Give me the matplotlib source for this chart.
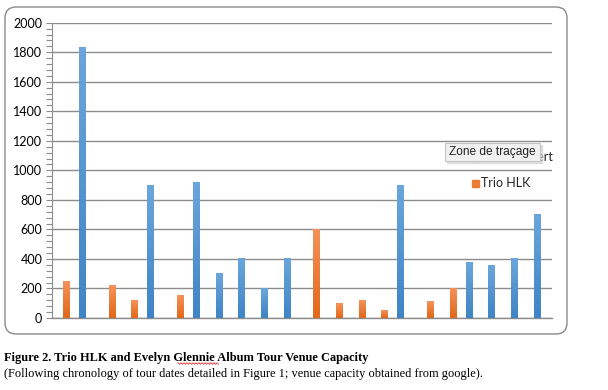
import numpy as np
import matplotlib.pyplot as plt
from matplotlib.patches import FancyBboxPatch, Rectangle
from matplotlib.lines import Line2D
from matplotlib.colors import LinearSegmentedColormap

# venue capacity per tour date (0 = no bar for that series)
joint_concert = [0, 1835, 0, 0, 900, 0, 920, 300, 400, 200, 400,
                 0, 0, 0, 0, 900, 0, 0, 375, 355, 400, 700]
trio_hlk = [250, 0, 220, 120, 0, 150, 0, 0, 0, 0, 0,
            600, 100, 120, 50, 0, 115, 200, 0, 0, 0, 0]
series_names = ["Joint concert", "Trio HLK"]
y_ticks = list(range(0, 2001, 200))

W, H = 608, 390
fig = plt.figure(figsize=(W / 100, H / 100), dpi=100)

# chart frame (rounded, like the Excel chart box)
frame = FancyBboxPatch((0.05, 0.56), 5.62, 3.27,
                       boxstyle="round,pad=0,rounding_size=0.11",
                       transform=fig.dpi_scale_trans, fill=False,
                       edgecolor="#8a8a8a", linewidth=1.0)
fig.patches.append(frame)

ax = fig.add_axes([52 / W, 1 - 318 / H, 500 / W, 295.3 / H])
n = len(joint_concert)

bar_w = 0.29
blue_cmap = LinearSegmentedColormap.from_list("b", ["#3f84c5", "#6aa6dc"])
orange_cmap = LinearSegmentedColormap.from_list("o", ["#e2681a", "#f5925a"])
grad = np.linspace(0, 1, 64).reshape(-1, 1)

for i in range(n):
    for val, off, cmap in ((joint_concert[i], -0.16, blue_cmap),
                           (trio_hlk[i], 0.14, orange_cmap)):
        if val <= 0:
            continue
        x0 = i + 0.5 + off - bar_w / 2
        ax.imshow(grad, cmap=cmap, origin="lower", aspect="auto",
                  extent=(x0, x0 + bar_w, 0, val), zorder=3)

ax.set_xlim(0, n)
ax.set_ylim(0, 2000)

ax.set_yticks(y_ticks)
ax.set_yticks(np.arange(0, 2001, 40), minor=True)
ax.set_xticks([])
ax.yaxis.grid(True, color="#8c8c8c", linewidth=1.0, zorder=1)
ax.set_axisbelow(True)
ax.tick_params(axis="y", which="both", length=4, width=0.8, color="#8c8c8c",
               labelsize=9, pad=3)
for lab in ax.get_yticklabels():
    lab.set_fontfamily("Lato")
for s in ("top", "right"):
    ax.spines[s].set_visible(False)
ax.spines["left"].set_color("#8c8c8c")
ax.spines["bottom"].set_color("#8c8c8c")
ax.spines["bottom"].set_linewidth(1.0)

# legend, drawn by hand at the chart's right side
leg_items = [(series_names[0], "#5b9bd5", 157), (series_names[1], "#ed7d31", 183)]
for name, col, yp in leg_items:
    fig.patches.append(Rectangle((472 / W, 1 - (yp + 3.5) / H), 7 / W, 7 / H,
                                 transform=fig.transFigure, color=col))
    fig.text(481 / W, 1 - yp / H, name, fontsize=9, family="Lato",
             va="center", ha="left", color="#222222")

# the "Zone de traçage" tooltip overlaying the legend
fig.patches.append(Rectangle((447 / W, 1 - 163 / H), 95 / W, 18 / H,
                             transform=fig.transFigure, color="#d0d0d0",
                             alpha=0.6, zorder=5))
fig.patches.append(Rectangle((445 / W, 1 - 161 / H), 95 / W, 18 / H,
                             transform=fig.transFigure, facecolor="#f1f1f1",
                             edgecolor="#c4c4c4", linewidth=0.8, zorder=6))
fig.text(449 / W, 1 - 152 / H, "Zone de traçage", fontsize=8.6,
         family="Liberation Sans", va="center", ha="left", color="#222222",
         zorder=7)

# caption
fig.text(4 / W, 1 - 360.5 / H,
         "Figure 2. Trio HLK and Evelyn Glennie Album Tour Venue Capacity",
         fontsize=8.95, family="Liberation Serif", weight="bold", va="baseline")
fig.text(4 / W, 1 - 376.5 / H,
         "(Following chronology of tour dates detailed in Figure 1; "
         "venue capacity obtained from google).",
         fontsize=8.95, family="Liberation Serif", va="baseline")

# spell-check squiggle under "Glennie"
zx = np.arange(178, 220, 1.5)
zy = 363.5 + np.where(np.arange(len(zx)) % 2 == 0, -0.8, 0.8)
fig.lines.append(Line2D(zx / W, 1 - zy / H, transform=fig.transFigure,
                        color="#e03030", linewidth=0.6))

fig.savefig("out.png", dpi=100)
